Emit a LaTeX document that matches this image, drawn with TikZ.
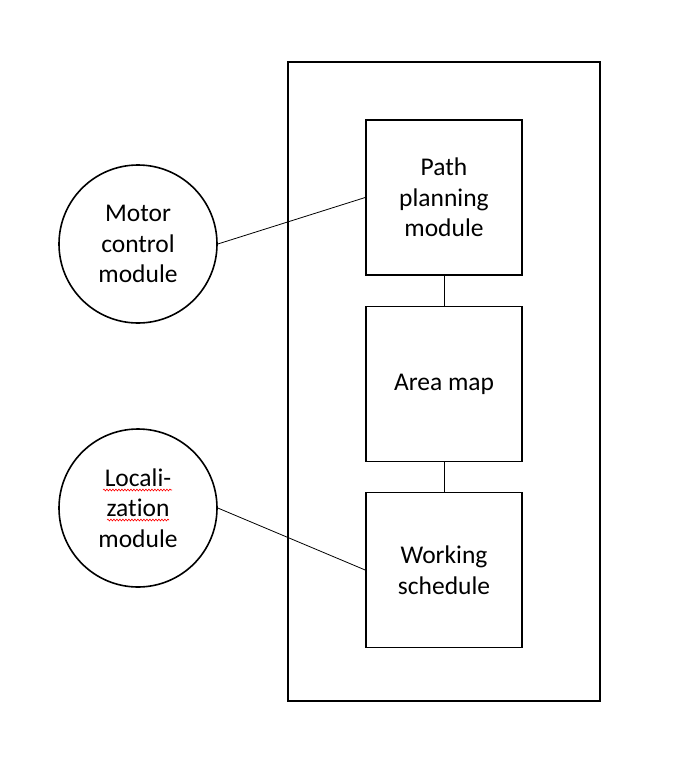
\documentclass[tikz,border=0pt]{standalone}
\usepackage{fontspec}
\setmainfont[Ligatures=NoCommon]{Carlito}
\usetikzlibrary{decorations.pathmorphing}
\tikzset{
  modbox/.style={draw, line width=1.6pt, minimum width=156pt, minimum height=155pt, align=center, inner sep=0pt},
  modcircle/.style={draw, circle, line width=1.6pt, minimum size=158pt, align=center, inner sep=0pt},
  link/.style={draw, line width=0.8pt},
  spellmark/.style={draw, red, line width=0.6pt, decorate, decoration={snake, amplitude=0.9pt, segment length=3pt}}
}
\newcommand{\modtext}{\fontsize{25.5}{30.5}\selectfont}
\begin{document}
\begin{tikzpicture}[x=1pt, y=-1pt, font=\modtext]
    \useasboundingbox (0,0) rectangle (676,780);

    % outer frame
    \node [draw, line width=1.6pt, minimum width=312pt, minimum height=639pt, inner sep=0pt] (frame) at (444,381.5) {};

    % inner modules
    \node [modbox] (path) at (444,197.5) {Path\\planning\\module};
    \node [modbox] (area) at (444,384) {Area map};
    \node [modbox] (work) at (444,570) {Working\\schedule};

    % outer modules
    \node [modcircle] (motor) at (138,244) {Motor\\control\\module};
    \node [modcircle] (loc) at (138,508) {Locali-\\zation\\module};

    % for spell check marks
    \draw [spellmark] (103,490) -- (172,490);
    \draw [spellmark] (107,520) -- (169,520);

    % links
    \draw [link] (path.south) -- (area.north);
    \draw [link] (area.south) -- (work.north);
    \draw [link] (motor.east) -- (path.west);
    \draw [link] (loc.east) -- (work.west);
\end{tikzpicture}
\end{document}
